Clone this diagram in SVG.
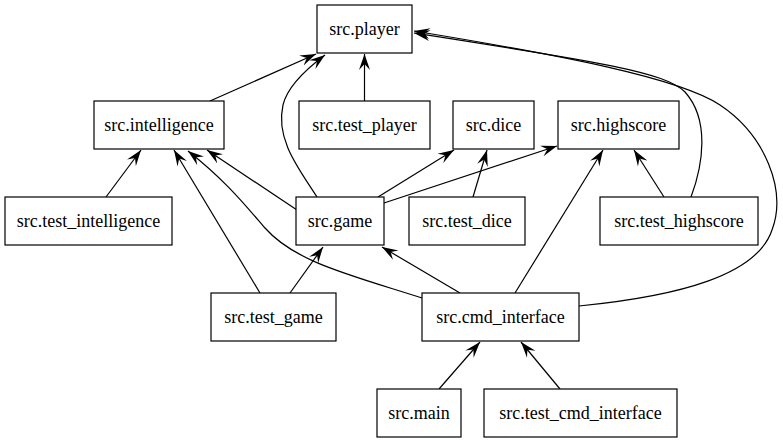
<svg xmlns="http://www.w3.org/2000/svg" width="783" height="443" viewBox="0 0 783 443">
<style>
  .node rect { fill: #ffffff; stroke: #000000; stroke-width: 1.2; }
  .node text { font-family: 'Liberation Serif', 'DejaVu Serif', serif; font-size: 18px; fill: #000000; text-anchor: middle; }
  .edges path { fill: none; stroke: #000000; stroke-width: 1.2; marker-end: url(#vee); }
</style>
<defs>
  <marker id="vee" viewBox="0 0 16 12" refX="16" refY="6" markerWidth="16" markerHeight="12" markerUnits="userSpaceOnUse" orient="auto">
    <path d="M0,0.5 L16,6 L0,11.5 L6,6 Z" fill="#000000"/>
  </marker>
</defs>
<rect width="783" height="443" fill="#ffffff"/>
<g class="edges">
  <path d="M210,101 L316,54"/>
  <path d="M317,197 C300,170 275,140 283,105 C287,88 305,70 325,55"/>
  <path d="M364.5,101 L364.5,54"/>
  <path d="M691,197 C703,165 710,120 685,92 C665,72 600,62 414,33"/>
  <path d="M579,306 C680,296 757,275 772,230 C787,190 765,135 720,105 C680,78 560,55 414,31"/>
  <path d="M106,197 L141,150"/>
  <path d="M297,210 L207,150"/>
  <path d="M260,293 L174,150"/>
  <path d="M422,298 C350,275 295,262 265,228 C245,205 225,180 188,151"/>
  <path d="M378,197 L454,150"/>
  <path d="M384,203 L557,146"/>
  <path d="M473,197 L487,150"/>
  <path d="M290,293 L323,247"/>
  <path d="M460,293 L382,247"/>
  <path d="M515,293 L603,150"/>
  <path d="M664,197 L634,150"/>
  <path d="M439,389 L480,342"/>
  <path d="M560,389 L521,342"/>
</g>
<g font-family="Liberation Serif, DejaVu Serif, serif">
<g id="src.player" class="node"><rect x="317" y="5" width="95" height="48"/><text x="364.5" y="35">src.player</text></g>
<g id="src.intelligence" class="node"><rect x="94" y="101" width="130" height="48"/><text x="159" y="131">src.intelligence</text></g>
<g id="src.test_player" class="node"><rect x="299" y="101" width="131" height="48"/><text x="364.5" y="131">src.test_player</text></g>
<g id="src.dice" class="node"><rect x="453" y="101" width="81" height="48"/><text x="493.5" y="131">src.dice</text></g>
<g id="src.highscore" class="node"><rect x="558" y="101" width="121" height="48"/><text x="618.5" y="131">src.highscore</text></g>
<g id="src.test_intelligence" class="node"><rect x="5" y="197" width="167" height="48"/><text x="88.5" y="227">src.test_intelligence</text></g>
<g id="src.game" class="node"><rect x="296" y="197" width="88" height="48"/><text x="340" y="227">src.game</text></g>
<g id="src.test_dice" class="node"><rect x="409" y="197" width="116" height="48"/><text x="467" y="227">src.test_dice</text></g>
<g id="src.test_highscore" class="node"><rect x="600" y="197" width="158" height="48"/><text x="679" y="227">src.test_highscore</text></g>
<g id="src.test_game" class="node"><rect x="211" y="293" width="125" height="48"/><text x="273.5" y="323">src.test_game</text></g>
<g id="src.cmd_interface" class="node"><rect x="422" y="293" width="157" height="48"/><text x="500.5" y="323">src.cmd_interface</text></g>
<g id="src.main" class="node"><rect x="377" y="389" width="84" height="48"/><text x="419" y="419">src.main</text></g>
<g id="src.test_cmd_interface" class="node"><rect x="484" y="389" width="193" height="48"/><text x="580.5" y="419">src.test_cmd_interface</text></g>
</g>
</svg>
